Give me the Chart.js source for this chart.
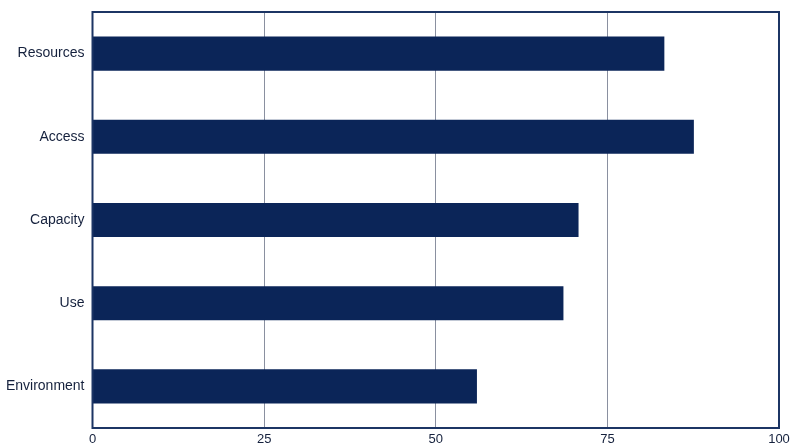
<!DOCTYPE html>
<html>
<head>
<meta charset="utf-8">
<script src="https://cdn.jsdelivr.net/npm/chart.js@4/dist/chart.umd.min.js"></script>
<style>
  html, body { margin: 0; padding: 0; background: #fff; }
  .chart-wrapper { width: 800px; height: 447px; }
</style>
</head>
<body>
<div class="chart-wrapper"><canvas id="chart"></canvas></div>
<script>
const categories = ['Resources', 'Access', 'Capacity', 'Use', 'Environment'];
const scores = [83.3, 87.6, 70.8, 68.6, 56.0];
const xTicks = [0, 25, 50, 75, 100];

const navy = '#0b2558';

// frame around the plot area
const frame = {
  id: 'frame',
  afterDraw(chart) {
    const { ctx, chartArea: a } = chart;
    ctx.save();
    ctx.strokeStyle = '#1c3564';
    ctx.lineWidth = 2;
    ctx.strokeRect(a.left, a.top, a.right - a.left, a.bottom - a.top);
    ctx.restore();
  }
};

const ctx = document.getElementById('chart').getContext('2d');
new Chart(ctx, {
  type: 'bar',
  data: {
    labels: categories,
    datasets: [{
      data: scores,
      backgroundColor: navy,
      borderWidth: 0,
      categoryPercentage: 1,
      barPercentage: 0.41
    }]
  },
  options: {
    indexAxis: 'y',
    responsive: true,
    maintainAspectRatio: false,
    animation: false,
    layout: { padding: { top: 12, right: 21, left: 0, bottom: 0 } },
    plugins: {
      legend: { display: false },
      tooltip: { enabled: false }
    },
    scales: {
      x: {
        min: 0,
        max: 100,
        afterBuildTicks(axis) {
          axis.ticks = xTicks.map(v => ({ value: v }));
        },
        afterFit(axis) { axis.height = 19; },
        grid: { color: '#8a90a0', lineWidth: 1, drawTicks: false },
        border: { display: false },
        ticks: {
          padding: 4,
          color: '#15213d',
          font: { family: 'Liberation Sans, Arial, sans-serif', size: 13 }
        }
      },
      y: {
        afterFit(axis) {
          axis.width = 92.5;
          axis.paddingTop = 0;
          axis.paddingBottom = 0;
        },
        grid: { display: false, drawTicks: false },
        border: { display: false },
        ticks: {
          padding: 8,
          color: '#15213d',
          font: { family: 'Liberation Sans, Arial, sans-serif', size: 14 }
        }
      }
    }
  },
  plugins: [frame]
});
</script>
</body>
</html>
